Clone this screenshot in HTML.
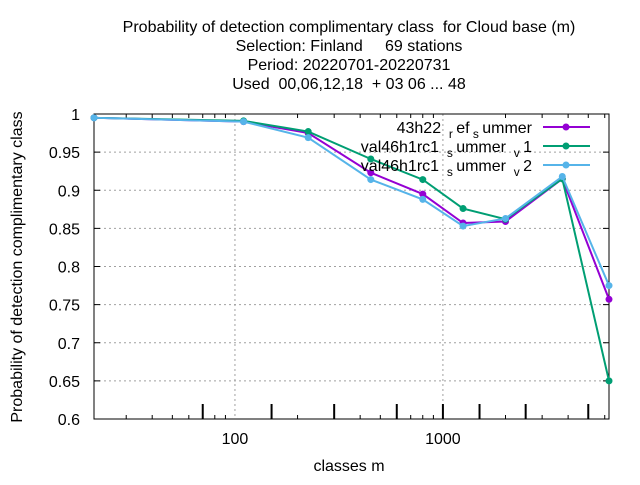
<!DOCTYPE html>
<html><head><meta charset="utf-8"><style>
body{margin:0;background:#fff}
svg{font-family:"Liberation Sans",sans-serif;font-size:16px}
text{white-space:pre}
</style></head><body>
<svg width="640" height="480" viewBox="0 0 640 480" xml:space="preserve">
<g id="titles" text-anchor="middle" fill="#000">
<text x="349" y="32">Probability of detection complimentary class  for Cloud base (m)</text>
<text x="349" y="51">Selection: Finland     69 stations</text>
<text x="349" y="70">Period: 20220701-20220731</text>
<text x="349" y="89">Used  00,06,12,18  + 03 06 ... 48</text>
</g>
<g id="grid"></g>
<g id="axes"></g>
<g id="series"></g>
<g id="legend"></g>
<text x="349" y="471" text-anchor="middle">classes m</text>
<text transform="translate(22,267) rotate(-90)" text-anchor="middle">Probability of detection complimentary class</text>
</svg>
<script>
const xValues=[21,110,225,450,800,1250,2000,3750,6290];
const seriesNames=["43h22 _ref_summer","val46h1rc1_summer_v1","val46h1rc1_summer_v2"];
const s1=[0.995,0.99,0.975,0.923,0.895,0.857,0.859,0.915,0.757];
const s2=[0.995,0.991,0.977,0.941,0.914,0.876,0.862,0.915,0.65];
const s3=[0.995,0.99,0.969,0.914,0.888,0.853,0.863,0.918,0.775];
const yTicks=[0.6,0.65,0.7,0.75,0.8,0.85,0.9,0.95,1];
const yTickLabels=["0.6","0.65","0.7","0.75","0.8","0.85","0.9","0.95","1"];
const xMajor=[100,1000];
const xClassTicks=[70,150,300,600,1000,1500,2500,5000];
const L=94,R=609,T=114,B=419;
const xmin=21,xmax=6290,ymin=0.6,ymax=1;
const NS="http://www.w3.org/2000/svg";
function X(v){return L+(Math.log10(v)-Math.log10(xmin))/(Math.log10(xmax)-Math.log10(xmin))*(R-L);}
function Y(v){return B-(v-ymin)/(ymax-ymin)*(B-T);}
function mk(tag,attrs,parent){const e=document.createElementNS(NS,tag);for(const k in attrs)e.setAttribute(k,attrs[k]);parent.appendChild(e);return e;}
const grid=document.getElementById('grid'),axes=document.getElementById('axes'),ser=document.getElementById('series'),leg=document.getElementById('legend');
yTicks.forEach((v,i)=>{
 if(i>0&&i<yTicks.length-1){const g=mk('line',{x1:L,x2:R,y1:Y(v),y2:Y(v),stroke:'#a0a0a0','stroke-dasharray':'2,3'},grid);
 
 }
 const t=mk('text',{x:L-14,y:Y(v)+6,'text-anchor':'end'},axes);t.textContent=yTickLabels[i];
 
 
 mk('line',{x1:L,x2:L+6,y1:Y(v),y2:Y(v),stroke:'#000'},axes);
 mk('line',{x1:R,x2:R-6,y1:Y(v),y2:Y(v),stroke:'#000'},axes);
});
xMajor.forEach(v=>{
 const g=mk('line',{x1:X(v),x2:X(v),y1:T,y2:B,stroke:'#a0a0a0','stroke-dasharray':'2,3'},grid);
 
 
 const t=mk('text',{x:X(v),y:B+25,'text-anchor':'middle'},axes);t.textContent=String(v);
 
 
});
for(let d=10;d<=1000;d*=10){for(let m=2;m<=9;m++){const v=m*d;if(v<xmin||v>xmax)continue;
 mk('line',{x1:X(v),x2:X(v),y1:B,y2:B-4,stroke:'#000'},axes);mk('line',{x1:X(v),x2:X(v),y1:T,y2:T+4,stroke:'#000'},axes);}}
xClassTicks.forEach(v=>{mk('line',{x1:X(v),x2:X(v),y1:B,y2:B-15,stroke:'#000','stroke-width':2},axes);});
const fr=mk('rect',{x:L,y:T,width:R-L,height:B-T,fill:'none',stroke:'#000'},axes);


const colors=["#9400d3","#009e73","#56b4e9"];
const data=[s1,s2,s3];
const legTexts=[['43h22 ',['r','sub'],'ef',['s','sub'],'ummer'],['val46h1rc1 ',['s','sub'],'ummer ',['v','sub'],'1'],['val46h1rc1 ',['s','sub'],'ummer ',['v','sub'],'2']];
data.forEach((s,k)=>{
 const pts=s.map((v,i)=>X(xValues[i])+','+Y(v)).join(' ');
 const pl=mk('polyline',{points:pts,fill:'none',stroke:colors[k],'stroke-width':2},ser);
 
 
 s.forEach((v,i)=>{const c=mk('circle',{cx:X(xValues[i]),cy:Y(v),r:3.5,fill:colors[k]},ser);
  
  });
 const ly=127+k*19;
 const t=mk('text',{x:532,y:ly+6,'text-anchor':'end'},leg);
 
 
 legTexts[k].forEach(p=>{const ts=document.createElementNS(NS,'tspan');
  if(Array.isArray(p)){ts.textContent=' '+p[0]+' ';ts.setAttribute('font-size','12');ts.setAttribute('dy','5');}
  else{ts.textContent=p;ts.setAttribute('dy',t.childNodes.length&&t.lastChild.getAttribute('dy')==='5'?'-5':'0');}
  t.appendChild(ts);});
 mk('line',{x1:543,x2:590,y1:ly,y2:ly,stroke:colors[k],'stroke-width':2},leg);
 mk('circle',{cx:566,cy:ly,r:3.5,fill:colors[k]},leg);
});
</script>
</body></html>
